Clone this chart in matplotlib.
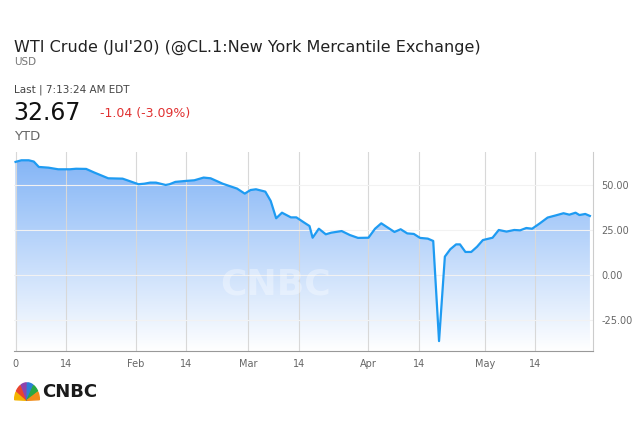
import numpy as np
import matplotlib
matplotlib.use('Agg')
import matplotlib.pyplot as plt
from matplotlib.patches import Wedge

# Data: day offset from Jan 1 2020, price (USD)
days = [0, 1.5, 3.4, 4.7, 6, 8.5, 11, 14, 15.6, 18.2, 20.3, 23.9, 27.6, 29.6, 31.7,
        33.2, 34.7, 36.2, 38.7, 39.7, 41.2, 43.7, 46.1, 48.5, 50.3, 53.4, 57.1, 59.1,
        60.6, 62, 64.4, 65.8, 67.2, 68.7, 71, 72.4, 74.5, 75.8, 76.6, 78.2, 80, 81.4,
        84.1, 86.2, 88.3, 91, 92.7, 94.3, 96, 97.7, 99.3, 101, 102.7, 104.3, 106.3,
        107.7, 109.2, 110.7, 112.1, 113.6, 114.6, 116, 117.5, 119, 120.5, 123, 124.6,
        126.6, 128.6, 130.1, 131.7, 133.2, 135.2, 137.2, 139.3, 141.3, 142.8, 144.4,
        145.4, 146.9, 148.1]
prices = [62.8, 63.7, 63.7, 63.0, 60.0, 59.6, 58.7, 58.7, 59.0, 58.9, 56.9, 53.7, 53.5,
          52.0, 50.4, 50.7, 51.3, 51.3, 50.0, 50.4, 51.7, 52.2, 52.6, 54.1, 53.7, 50.7,
          48.0, 45.2, 47.2, 47.6, 46.3, 41.1, 31.5, 34.6, 32.0, 32.0, 29.0, 27.2, 20.7,
          25.7, 22.6, 23.5, 24.4, 22.2, 20.6, 20.7, 25.7, 28.7, 26.3, 23.9, 25.4, 23.1,
          22.8, 20.6, 20.2, 18.9, -36.7, 10.2, 14.3, 17.0, 17.0, 12.8, 12.8, 15.7, 19.4,
          20.7, 25.0, 24.1, 25.0, 24.8, 26.1, 25.7, 28.7, 31.9, 33.1, 34.3, 33.5, 34.6,
          33.3, 33.9, 32.8]
tick_days = [0, 13, 31, 44, 60, 73, 91, 104, 121, 134]
tick_labels = ['0', '14', 'Feb', '14', 'Mar', '14', 'Apr', '14', 'May', '14']
y_ticks = [-25, 0, 25, 50]

W, H = 640, 430
fig = plt.figure(figsize=(W / 100, H / 100), dpi=100)
ax = fig.add_axes([14 / W, 1 - 351 / H, (593 - 14) / W, (351 - 152) / H])
x0, x1, y0, y1 = -0.4, 148.9, -42.2, 68.3
ax.set_xlim(x0, x1)
ax.set_ylim(y0, y1)

# gradient fill under the line
grad = np.linspace(0, 1, 256).reshape(-1, 1)
cmap = matplotlib.colors.LinearSegmentedColormap.from_list('g', ['#ffffff', '#7fb2f6'])
img = ax.imshow(grad, extent=[x0, x1, y0, y1], origin='lower', aspect='auto',
                cmap=cmap, zorder=1)
poly = ax.fill_between(days, prices, y0, color='none')
img.set_clip_path(poly.get_paths()[0], transform=ax.transData)

ax.plot(days, prices, color='#1e9bf2', lw=1.6, zorder=3)

for d in tick_days:
    ax.axvline(d, color='#d8d8d8', lw=0.8, zorder=2)
for v in y_ticks:
    ax.axhline(v, color='#f2f2f2', lw=0.8, zorder=2)

ax.text(67, -5, 'CNBC', color='white', alpha=0.35, fontsize=26, fontweight='bold',
        ha='center', va='center', zorder=2)

ax.set_xticks(tick_days)
ax.set_xticklabels(tick_labels)
ax.set_yticks(y_ticks)
ax.set_yticklabels([f'{v:.2f}' for v in y_ticks])
ax.yaxis.tick_right()
ax.tick_params(axis='both', labelsize=7, colors='#666666', length=0, pad=6)
for s in ['top', 'left']:
    ax.spines[s].set_visible(False)
ax.spines['right'].set_color('#cccccc')
ax.spines['bottom'].set_color('#999999')

# header
fig.text(14 / W, 1 - 47 / H, "WTI Crude (Jul'20) (@CL.1:New York Mercantile Exchange)",
         fontsize=11.5, color='#222222', va='center')
fig.text(14 / W, 1 - 62 / H, 'USD', fontsize=7.5, color='#777777', va='center')
fig.text(14 / W, 1 - 90 / H, 'Last | 7:13:24 AM EDT', fontsize=7.5, color='#444444', va='center')
fig.text(13 / W, 1 - 113 / H, '32.67', fontsize=17, color='#111111', va='center')
fig.text(100 / W, 1 - 114 / H, '-1.04 (-3.09%)', fontsize=9, color='#e03030', va='center')
fig.text(14 / W, 1 - 136 / H, 'YTD', fontsize=9.5, color='#666666', va='center')

# CNBC logo
lax = fig.add_axes([14 / W, 1 - 402 / H, 26 / W, 20 / H])
lax.set_xlim(-1.1, 1.1)
lax.set_ylim(-0.1, 1.1)
lax.axis('off')
cols = ['#f4b400', '#e8442e', '#8e44ad', '#2c7fd6', '#27a844', '#f08c1a']
for i, c in enumerate(cols):
    lax.add_patch(Wedge((0, 0), 1.05, 180 - (i + 1) * 30 + 2, 180 - i * 30 - 2, color=c))
fig.text(42 / W, 1 - 392 / H, 'CNBC', fontsize=13, fontweight='bold', color='#1a1a1a', va='center')

fig.savefig('out.png', dpi=100)
